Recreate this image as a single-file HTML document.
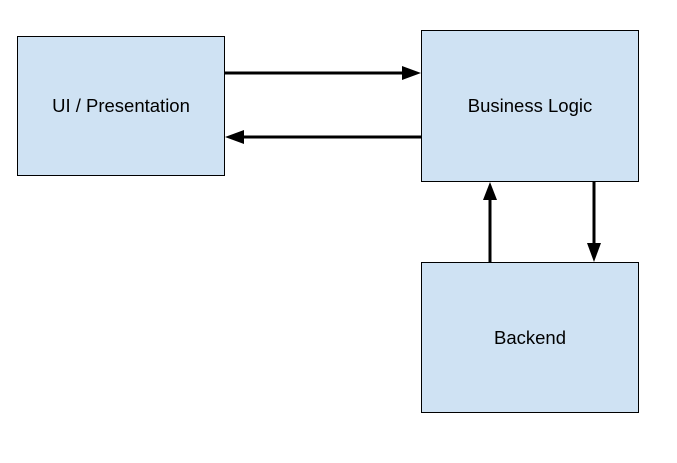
<!DOCTYPE html>
<html><head><style>
html,body{margin:0;padding:0;background:#fff;}
</style></head><body>
<svg width="677" height="463" xmlns="http://www.w3.org/2000/svg" style="display:block">
<rect x="0" y="0" width="677" height="463" fill="#fff"/>
<g fill="#cfe2f3" stroke="#000" stroke-width="1">
<rect x="17.5" y="36.5" width="207" height="139"/>
<rect x="421.5" y="30.5" width="217" height="151"/>
<rect x="421.5" y="262.5" width="217" height="150"/>
</g>
<g stroke="#000" stroke-width="3">
<line x1="225" y1="73" x2="404" y2="73"/>
<line x1="242" y1="137" x2="421" y2="137"/>
<line x1="490" y1="262" x2="490" y2="198"/>
<line x1="594" y1="182" x2="594" y2="245"/>
</g>
<g fill="#000">
<polygon points="421,73 402,66 402,80"/>
<polygon points="225,137 244,130 244,144"/>
<polygon points="490,182 483,200 497,200"/>
<polygon points="594,262 587,243 601,243"/>
</g>
<g font-family="Liberation Sans, Arial, sans-serif" font-size="18.5" fill="#000" text-anchor="middle">
<text x="121" y="112">UI / Presentation</text>
<text x="530" y="112">Business Logic</text>
<text x="530" y="344">Backend</text>
</g>
</svg>
</body></html>
